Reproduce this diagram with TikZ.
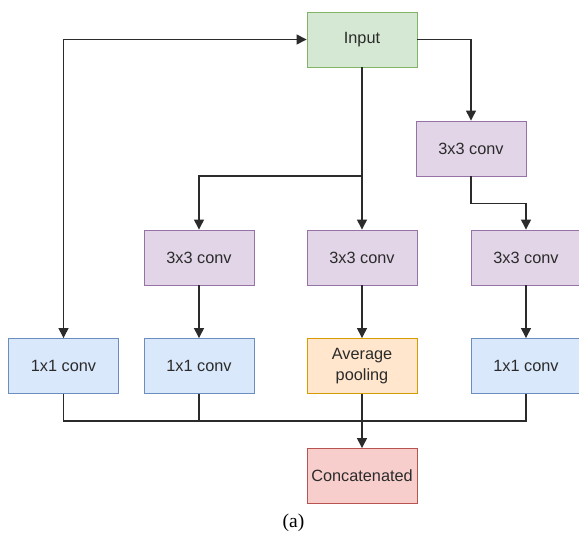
\documentclass[tikz,border=0pt]{standalone}
\usepackage{fontspec}
\setmainfont{Liberation Sans}
\newfontfamily\capfont{Liberation Serif}
\usetikzlibrary{arrows.meta}

\definecolor{greenfill}{HTML}{D5E8D4}\definecolor{greenline}{HTML}{82B366}
\definecolor{purplefill}{HTML}{E1D5E7}\definecolor{purpleline}{HTML}{9673A6}
\definecolor{bluefill}{HTML}{DAE8FC}\definecolor{blueline}{HTML}{6C8EBF}
\definecolor{orangefill}{HTML}{FFE6CC}\definecolor{orangeline}{HTML}{D79B00}
\definecolor{redfill}{HTML}{F8CECC}\definecolor{redline}{HTML}{B85450}
\definecolor{ink}{HTML}{2B2B2B}

\tikzset{
  block/.style={draw, line width=0.9pt, minimum width=110pt, minimum height=55pt,
    inner sep=2pt, align=center, font=\fontsize{16.3}{21.5}\selectfont, text=ink},
  inbox/.style={block, fill=greenfill, draw=greenline},
  convthree/.style={block, fill=purplefill, draw=purpleline},
  convone/.style={block, fill=bluefill, draw=blueline},
  poolbox/.style={block, fill=orangefill, draw=orangeline},
  catbox/.style={block, fill=redfill, draw=redline},
  link/.style={draw=ink, line width=1.3pt},
  flow/.style={link, -{Triangle[length=10pt,width=10pt]}},
  twoway/.style={link, {Triangle[length=10pt,width=10pt]}-{Triangle[length=10pt,width=10pt]}}
}

\begin{document}
\begin{tikzpicture}[x=1pt, y=-1pt]
  \useasboundingbox[fill=white] (0,0) rectangle (579,533);

  % blocks
  \node[inbox]     (in)   at (362,39.5)  {Input};
  \node[convthree] (c3a)  at (471,148.5) {3x3 conv};
  \node[convthree] (c3b)  at (199,257.5) {3x3 conv};
  \node[convthree] (c3c)  at (362,257.5) {3x3 conv};
  \node[convthree] (c3d)  at (526,257.5) {3x3 conv};
  \node[convone]   (c1a)  at (63.5,366)  {1x1 conv};
  \node[convone]   (c1b)  at (199,366)   {1x1 conv};
  \node[poolbox]   (pool) at (362,366)   {Average\\pooling};
  \node[convone]   (c1d)  at (526,366)   {1x1 conv};
  \node[catbox]    (cat)  at (362,476)   {Concatenated};

  \node[font=\capfont\fontsize{19.5}{22}\selectfont, inner sep=0pt] (cap) at (293.5,522.5) {(a)};

  % junction points
  \coordinate (br)  at (362,176);
  \coordinate (bus) at (362,421);

  % input branches
  \draw[twoway] (in.west) -| (c1a.north);
  \draw[flow] (in.east) -| (c3a.north);
  \draw[flow] (in.south) -- (c3c.north);
  \draw[flow] (br) -| (c3b.north);
  \draw[flow] (c3a.south) -- ++(0,27) -| (c3d.north);

  % second stage
  \draw[flow] (c3b) -- (c1b);
  \draw[flow] (c3c) -- (pool);
  \draw[flow] (c3d) -- (c1d);

  % merge into concatenation
  \draw[link] (c1a.south) |- (bus);
  \draw[link] (c1d.south) |- (bus);
  \draw[link] (c1b.south) -- (c1b.south |- bus);
  \draw[flow] (pool.south) -- (cat.north);
\end{tikzpicture}
\end{document}
